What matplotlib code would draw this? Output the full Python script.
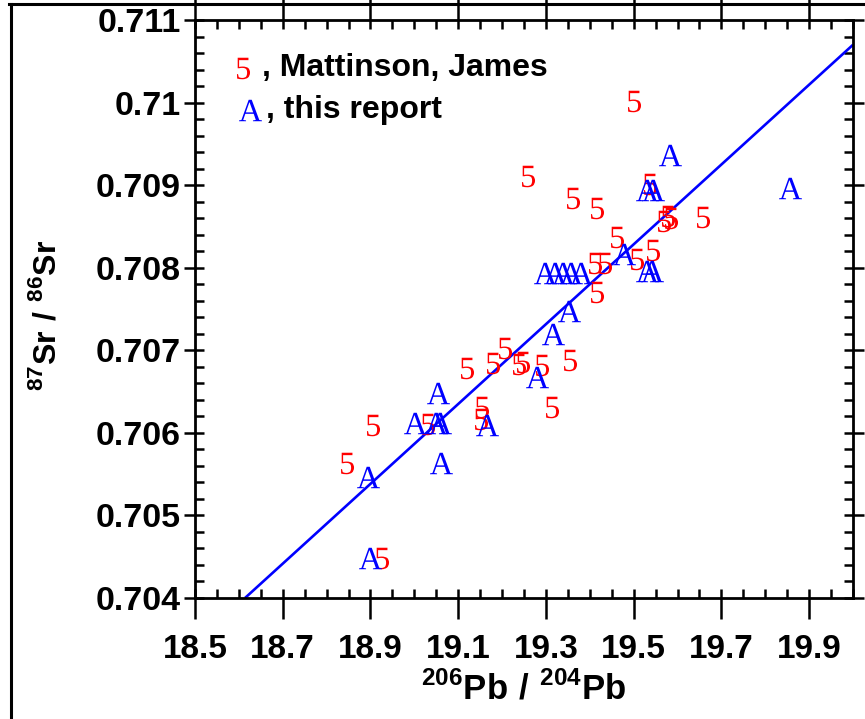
import matplotlib
matplotlib.use("Agg")
import matplotlib.pyplot as plt
from matplotlib.lines import Line2D
from matplotlib.ticker import FixedLocator, MultipleLocator

# ---------------- data ----------------
mattinson_x = [19.501, 19.259, 19.362, 19.416, 19.537, 19.658, 19.569, 19.578, 19.585,
               19.462, 19.544, 19.508, 19.412, 19.435, 19.416, 19.207, 19.120, 19.179,
               19.239, 19.248, 19.291, 19.355, 19.314, 18.906, 19.031, 19.152, 19.154,
               18.847, 18.926]
mattinson_y = [0.71002, 0.70911, 0.70884, 0.70872, 0.70901, 0.70862, 0.70857, 0.70863, 0.70860,
               0.70837, 0.70821, 0.70811, 0.70806, 0.70806, 0.70771, 0.70703, 0.70679, 0.70685,
               0.70683, 0.70686, 0.70682, 0.70688, 0.70631, 0.70610, 0.70611, 0.70617, 0.70631,
               0.70564, 0.70449]

report_x = [19.583, 19.530, 19.544, 19.856, 19.478, 19.298, 19.321, 19.339, 19.357, 19.380,
            19.530, 19.542, 19.353, 19.316, 19.280, 19.054, 19.001, 19.049, 19.058, 19.166,
            18.894, 19.061, 18.899]
report_y = [0.70936, 0.70894, 0.70894, 0.70897, 0.70817, 0.70793, 0.70793, 0.70793, 0.70793,
            0.70793, 0.70796, 0.70796, 0.70748, 0.70720, 0.70668, 0.70648, 0.70612, 0.70612,
            0.70612, 0.70610, 0.70547, 0.70564, 0.70449]

fit_x = [18.614, 20.0]
fit_y = [0.7040, 0.7107]

x_ticks = [18.5, 18.7, 18.9, 19.1, 19.3, 19.5, 19.7, 19.9]
x_tick_labels = ['18.5', '18.7', '18.9', '19.1', '19.3', '19.5', '19.7', '19.9']
y_ticks = [0.704, 0.705, 0.706, 0.707, 0.708, 0.709, 0.710, 0.711]
y_tick_labels = ['0.704', '0.705', '0.706', '0.707', '0.708', '0.709', '0.71', '0.711']

legend_labels = [', Mattinson, James', ', this report']

# ---------------- fonts ----------------
plt.rcParams['font.family'] = ['Liberation Sans', 'DejaVu Sans']
plt.rcParams['mathtext.fontset'] = 'custom'
plt.rcParams['mathtext.rm'] = 'Liberation Serif'
plt.rcParams['mathtext.bf'] = 'Liberation Sans:bold'

RED = '#ff0000'
BLUE = '#0000ff'

W, H = 865, 719
fig = plt.figure(figsize=(W / 100, H / 100), dpi=100)
L, R, T, B = 195, 853, 20, 598
ax = fig.add_axes([L / W, 1 - B / H, (R - L) / W, (B - T) / H])

ax.set_xlim(18.5, 20.0)
ax.set_ylim(0.704, 0.711)

# fit line
ax.plot(fit_x, fit_y, color=BLUE, lw=1.9, solid_capstyle='butt', zorder=2)

# points
ax.plot(mattinson_x, mattinson_y, ls='none', marker=r'$\mathrm{5}$', ms=15.5,
        color=RED, mew=0, zorder=3, clip_on=False)
ax.plot(report_x, report_y, ls='none', marker=r'$\mathrm{A}$', ms=16.5,
        color=BLUE, mew=0, zorder=3, clip_on=False)

# legend
ax.plot([(243 - L) / (R - L)], [(B - 68) / (B - T)], transform=ax.transAxes, ls='none',
        marker=r'$\mathrm{5}$', ms=15.5, color=RED, mew=0)
ax.plot([(250 - L) / (R - L)], [(B - 110) / (B - T)], transform=ax.transAxes, ls='none',
        marker=r'$\mathrm{A}$', ms=16.5, color=BLUE, mew=0)
ax.text((262 - L) / (R - L), (B - 68) / (B - T), legend_labels[0], transform=ax.transAxes,
        ha='left', va='center', fontsize=23, fontweight='bold', color='black')
ax.text((266 - L) / (R - L), (B - 110) / (B - T), legend_labels[1], transform=ax.transAxes,
        ha='left', va='center', fontsize=23, fontweight='bold', color='black')

# spines
for s in ax.spines.values():
    s.set_linewidth(2.0)

# ticks
ax.xaxis.set_major_locator(FixedLocator(x_ticks))
ax.xaxis.set_minor_locator(MultipleLocator(0.05))
ax.yaxis.set_major_locator(FixedLocator(y_ticks))
ax.yaxis.set_minor_locator(MultipleLocator(0.0002))
ax.xaxis.remove_overlapping_locs = False
ax.yaxis.remove_overlapping_locs = False
ax.set_xticklabels(x_tick_labels)
ax.set_yticklabels(y_tick_labels)

ax.tick_params(which='major', direction='out', width=1.8, top=True, right=True)
ax.tick_params(axis='x', which='major', length=15, pad=11)
ax.tick_params(axis='y', which='major', length=8, pad=2)
ax.tick_params(which='minor', direction='in', length=6.5, width=1.8, top=True, right=True)

for lab in ax.get_xticklabels():
    lab.set_fontweight('bold')
    lab.set_fontsize(24)
for lab in ax.get_yticklabels():
    lab.set_fontweight('bold')
    lab.set_fontsize(24.5)

# axis labels
fig.text(524 / W, 1 - 699 / H,
         r'$^{\mathbf{206}}\mathbf{Pb}\ \mathbf{/}\ ^{\mathbf{204}}\mathbf{Pb}$',
         ha='center', va='baseline', fontsize=25)
fig.text(47 / W, 1 - 315 / H,
         r'$^{\mathbf{87}}\mathbf{Sr}\ \mathbf{/}\ ^{\mathbf{86}}\mathbf{Sr}$',
         ha='center', va='center', rotation=90, fontsize=23)

# outer frame lines
fig.add_artist(Line2D([11 / W, 11 / W], [0, 1 - 4 / H], transform=fig.transFigure,
                      color='black', lw=2.2))
fig.add_artist(Line2D([9 / W, 1], [1 - 4 / H, 1 - 4 / H], transform=fig.transFigure,
                      color='black', lw=2.2))

fig.savefig('out.png', dpi=100)
